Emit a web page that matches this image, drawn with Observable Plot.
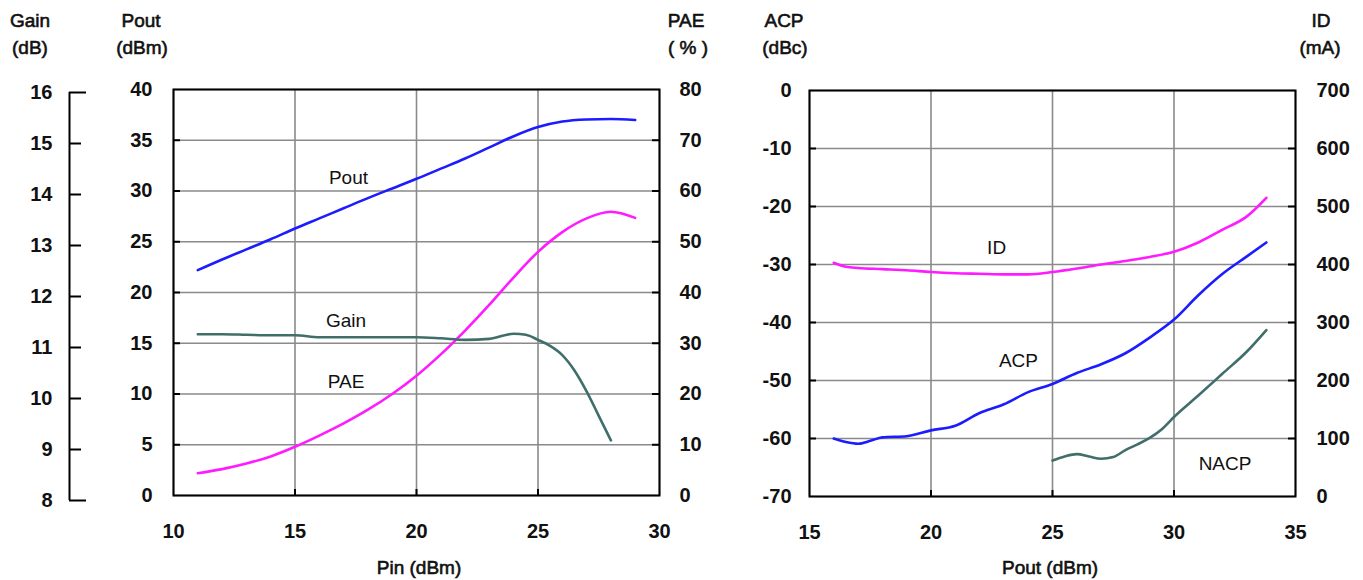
<!DOCTYPE html>
<html><head><meta charset="utf-8">
<script src="https://cdn.jsdelivr.net/npm/d3@7"></script>
<script src="https://cdn.jsdelivr.net/npm/@observablehq/plot@0.6"></script>
<style>
html,body{margin:0;padding:0;background:#fff;}
#chart{position:relative;width:1363px;height:580px;overflow:hidden;font-family:"Liberation Sans",Arial,Helvetica,sans-serif;}
#chart svg{position:absolute;top:0;overflow:visible;background:transparent;}
.t{position:absolute;transform:translate(-50%,-50%);font-size:19px;color:#111;white-space:pre;line-height:1;-webkit-text-stroke:0.6px #111;}
</style></head><body><div id="chart"></div>
<script>
// ---------- LEFT PANEL DATA (x = Pin, dBm) ----------
const pinTicks = [10, 15, 20, 25, 30];
const poutTicks = [0, 5, 10, 15, 20, 25, 30, 35, 40];
const gainTicks = [8, 9, 10, 11, 12, 13, 14, 15, 16];
const paeTicks = [0, 10, 20, 30, 40, 50, 60, 70, 80];

const pin = [11, 12, 13, 14, 15, 16, 17, 18, 19, 20, 21, 22, 23, 24, 25, 26, 27, 28, 29];
const pout = [22.2, 23.25, 24.25, 25.25, 26.3, 27.3, 28.3, 29.3, 30.25, 31.2, 32.2, 33.2, 34.3, 35.4, 36.3, 36.85, 37.05, 37.1, 37.0];
const pae = [4.4, 5.2, 6.3, 7.7, 9.6, 11.8, 14.2, 16.9, 20.0, 23.6, 27.8, 32.5, 37.6, 43.0, 48.0, 51.9, 54.6, 55.9, 54.7];
const gainPin = [11, 12, 13, 14, 15, 16, 17, 18, 19, 20, 21, 22, 23, 24, 24.5, 25, 25.5, 26, 26.5, 27, 27.5, 28];
const gain = [11.26, 11.26, 11.25, 11.24, 11.24, 11.2, 11.2, 11.2, 11.2, 11.2, 11.18, 11.15, 11.17, 11.27, 11.25, 11.15, 11.03, 10.85, 10.55, 10.14, 9.66, 9.18];

const leftLabelText = ["Pout", "Gain", "PAE"];
const leftLabelPin = [17.2, 17.1, 17.1];
const leftLabelValue = [31.3, 11.53, 22.4]; // in dBm, dB, %

// ---------- RIGHT PANEL DATA (x = Pout, dBm) ----------
const poutAxisTicks = [15, 20, 25, 30, 35];
const acpTicks = [-70, -60, -50, -40, -30, -20, -10, 0];
const idTicks = [0, 100, 200, 300, 400, 500, 600, 700];

const acpPout = [16, 16.5, 17, 17.5, 18, 19, 20, 21, 22, 23, 24, 25, 26, 27, 28, 29, 30, 31, 32, 33, 33.8];
const acp = [-60.0, -60.6, -60.9, -60.4, -59.8, -59.6, -58.6, -57.8, -55.6, -54.1, -52.0, -50.6, -48.7, -47.2, -45.3, -42.6, -39.5, -35.3, -31.6, -28.6, -26.2];
const idPout = [16, 16.5, 17, 18, 19, 20, 21, 22, 23, 24, 25, 26, 27, 28, 29, 30, 31, 32, 33, 33.8];
const idValues = [403, 396, 394, 392, 390, 387, 385, 384, 383, 383, 387, 393, 400, 406, 413, 422, 438, 460, 483, 515];
const nacpPout = [25, 25.5, 26, 26.5, 27, 27.5, 28, 28.5, 29, 29.5, 30, 31, 32, 33, 33.8];
const nacp = [-63.8, -63.1, -62.7, -63.1, -63.5, -63.2, -62.0, -61.0, -59.9, -58.4, -56.3, -52.6, -48.8, -45.0, -41.3];

const rightLabelText = ["ID", "ACP", "NACP"];
const rightLabelPout = [22.7, 23.6, 32.1];
const rightLabelValue = [429, -46.7, -64.3]; // mA, dBc, dBc
const rightLabelUnit = ["mA", "dBc", "dBc"];

// ---------- STYLE ----------
const FONT = '"Liberation Sans", Arial, Helvetica, sans-serif';
const BLUE = "#1c1cff", MAGENTA = "#ff1aff", TEAL = "#406e6b";
const GRID = "#8a8a8a";
const TICKFS = 20;

const chart = document.getElementById("chart");

// ---------- Layout ----------
const LW = 700, LH = 580, Lm = {left: 173, right: 41, top: 89, bottom: 85};
const LFW = LW - Lm.left - Lm.right, LFH = LH - Lm.top - Lm.bottom;
const GW = 100, Gm = {left: 69, right: 14, top: 92, bottom: 80};
const RW = 663, RH = 580, Rm = {left: 109, right: 68, top: 90, bottom: 84};
const RFW = RW - Rm.left - Rm.right, RFH = RH - Rm.top - Rm.bottom;

// secondary-axis conversions
const gainPx = d3.scaleLinear().domain([d3.min(gainTicks), d3.max(gainTicks)]).range([LH - Gm.bottom, Gm.top]);
const poutPx = d3.scaleLinear().domain([d3.min(poutTicks), d3.max(poutTicks)]).range([LH - Lm.bottom, Lm.top]);
const gainToPout = g => poutPx.invert(gainPx(g));
const paeToPout = v => v * d3.max(poutTicks) / d3.max(paeTicks);
const pToPae = v => v * d3.max(paeTicks) / d3.max(poutTicks);
const acpMin = d3.min(acpTicks), idMax = d3.max(idTicks);
const idToAcp = v => acpMin + v / idMax * (0 - acpMin);
const acpToId = v => (v - acpMin) / (0 - acpMin) * idMax;

const fmt = d => String(Math.round(d));
const axisText = {fontSize: TICKFS, fontWeight: "bold", fill: "#111", label: null, tickSize: 0, tickFormat: fmt};
const gridStyle = {stroke: GRID, strokeOpacity: 1, strokeWidth: 1.6};
const inner = arr => arr.slice(1, -1);

// ---------- Gain axis (far left) ----------
const gainEnds = [d3.min(gainTicks), d3.max(gainTicks)];
const gainPlot = Plot.plot({
  width: GW, height: LH,
  marginLeft: Gm.left, marginRight: Gm.right, marginTop: Gm.top, marginBottom: Gm.bottom,
  style: {fontFamily: FONT, background: "transparent", color: "#000", overflow: "visible"},
  x: {domain: [0, 1], axis: null},
  y: {domain: [d3.min(gainTicks), d3.max(gainTicks)], axis: null},
  marks: [
    Plot.ruleX([0], {stroke: "#000", strokeWidth: 2}),
    Plot.tickY(gainTicks.filter(d => gainEnds.includes(d)), {y: d => d, stroke: "#000", strokeWidth: 2}),
    Plot.tickY(gainTicks.filter(d => !gainEnds.includes(d)), {y: d => d, stroke: "#000", strokeWidth: 2, insetRight: 5}),
    Plot.axisY(gainTicks, {...axisText, anchor: "left", tickPadding: 17})
  ]
});
gainPlot.style.left = "0px";

// ---------- Left panel ----------
const poutLine = pin.map((x, i) => ({x, y: pout[i]}));
const paeLine = pin.map((x, i) => ({x, y: paeToPout(pae[i])}));
const gainLine = gainPin.map((x, i) => ({x, y: gainToPout(gain[i])}));
const leftConv = [v => v, gainToPout, paeToPout];
const leftLabels = leftLabelText.map((t, i) => ({t, x: leftLabelPin[i], y: leftConv[i](leftLabelValue[i])}));

const leftPlot = Plot.plot({
  width: LW, height: LH,
  marginLeft: Lm.left, marginRight: Lm.right, marginTop: Lm.top, marginBottom: Lm.bottom,
  style: {fontFamily: FONT, background: "transparent", color: "#000", overflow: "visible"},
  x: {domain: [d3.min(pinTicks), d3.max(pinTicks)], axis: null},
  y: {domain: [d3.min(poutTicks), d3.max(poutTicks)], axis: null},
  marks: [
    Plot.gridX(pinTicks, gridStyle),
    Plot.gridY(poutTicks, gridStyle),
    Plot.tickY(inner(poutTicks), {y: d => d, stroke: "#000", strokeWidth: 2, insetRight: LFW - 7}),
    Plot.tickY(inner(poutTicks), {y: d => d, stroke: "#000", strokeWidth: 2, insetLeft: LFW - 7}),
    Plot.tickX(inner(pinTicks), {x: d => d, stroke: "#000", strokeWidth: 2, insetTop: LFH - 6}),
    Plot.frame({stroke: "#000", strokeWidth: 2}),
    Plot.line(poutLine, {x: "x", y: "y", stroke: BLUE, strokeWidth: 2.6, curve: "monotone-x"}),
    Plot.line(paeLine, {x: "x", y: "y", stroke: MAGENTA, strokeWidth: 2.6, curve: "monotone-x"}),
    Plot.line(gainLine, {x: "x", y: "y", stroke: TEAL, strokeWidth: 2.6, curve: "monotone-x"}),
    Plot.text(leftLabels, {x: "x", y: "y", text: "t", fontSize: 19, fill: "#111", textAnchor: "middle"}),
    Plot.axisX(pinTicks, {...axisText, anchor: "bottom", tickPadding: 28}),
    Plot.axisY(poutTicks, {...axisText, anchor: "left", tickPadding: 21}),
    Plot.axisY(paeTicks.map(paeToPout), {...axisText, anchor: "right", tickPadding: 20, tickFormat: d => fmt(pToPae(d))})
  ]
});
leftPlot.style.left = "0px";

// ---------- Right panel ----------
const acpLine = acpPout.map((x, i) => ({x, y: acp[i]}));
const idLine = idPout.map((x, i) => ({x, y: idToAcp(idValues[i])}));
const nacpLine = nacpPout.map((x, i) => ({x, y: nacp[i]}));
const rightLabels = rightLabelText.map((t, i) => ({t, x: rightLabelPout[i], y: rightLabelUnit[i] === "mA" ? idToAcp(rightLabelValue[i]) : rightLabelValue[i]}));

const rightPlot = Plot.plot({
  width: RW, height: RH,
  marginLeft: Rm.left, marginRight: Rm.right, marginTop: Rm.top, marginBottom: Rm.bottom,
  style: {fontFamily: FONT, background: "transparent", color: "#000", overflow: "visible"},
  x: {domain: [d3.min(poutAxisTicks), d3.max(poutAxisTicks)], axis: null},
  y: {domain: [d3.min(acpTicks), d3.max(acpTicks)], axis: null},
  marks: [
    Plot.gridX(poutAxisTicks, gridStyle),
    Plot.gridY(acpTicks, gridStyle),
    Plot.tickY(inner(acpTicks), {y: d => d, stroke: "#000", strokeWidth: 2, insetRight: RFW - 7}),
    Plot.tickY(inner(acpTicks), {y: d => d, stroke: "#000", strokeWidth: 2, insetLeft: RFW - 7}),
    Plot.tickX(inner(poutAxisTicks), {x: d => d, stroke: "#000", strokeWidth: 2, insetTop: RFH - 6}),
    Plot.frame({stroke: "#000", strokeWidth: 2}),
    Plot.line(idLine, {x: "x", y: "y", stroke: MAGENTA, strokeWidth: 2.6, curve: "monotone-x"}),
    Plot.line(acpLine, {x: "x", y: "y", stroke: BLUE, strokeWidth: 2.6, curve: "monotone-x"}),
    Plot.line(nacpLine, {x: "x", y: "y", stroke: TEAL, strokeWidth: 2.6, curve: "monotone-x"}),
    Plot.text(rightLabels, {x: "x", y: "y", text: "t", fontSize: 19, fill: "#111", textAnchor: "middle"}),
    Plot.axisX(poutAxisTicks, {...axisText, anchor: "bottom", tickPadding: 28}),
    Plot.axisY(acpTicks, {...axisText, anchor: "left", tickPadding: 18}),
    Plot.axisY(idTicks.map(idToAcp), {...axisText, anchor: "right", tickPadding: 21, tickFormat: d => fmt(acpToId(d))})
  ]
});
rightPlot.style.left = LW + "px";

chart.appendChild(leftPlot);
chart.appendChild(gainPlot);
chart.appendChild(rightPlot);

// ---------- Axis titles (HTML text) ----------
const titles = [
  ["Gain", 30, 20], ["(dB)", 30, 47],
  ["Pout", 141, 20], ["(dBm)", 142, 47],
  ["PAE", 686, 20], ["( % )", 688, 47],
  ["ACP", 784, 20], ["(dBc)", 785, 47],
  ["ID", 1321, 20], ["(mA)", 1320, 47],
  ["Pin (dBm)", 419, 567], ["Pout (dBm)", 1050, 567]
];
for (const [t, x, y] of titles) {
  const d = document.createElement("div");
  d.className = "t";
  d.textContent = t;
  d.style.left = x + "px";
  d.style.top = y + "px";
  chart.appendChild(d);
}
</script>
</body></html>
